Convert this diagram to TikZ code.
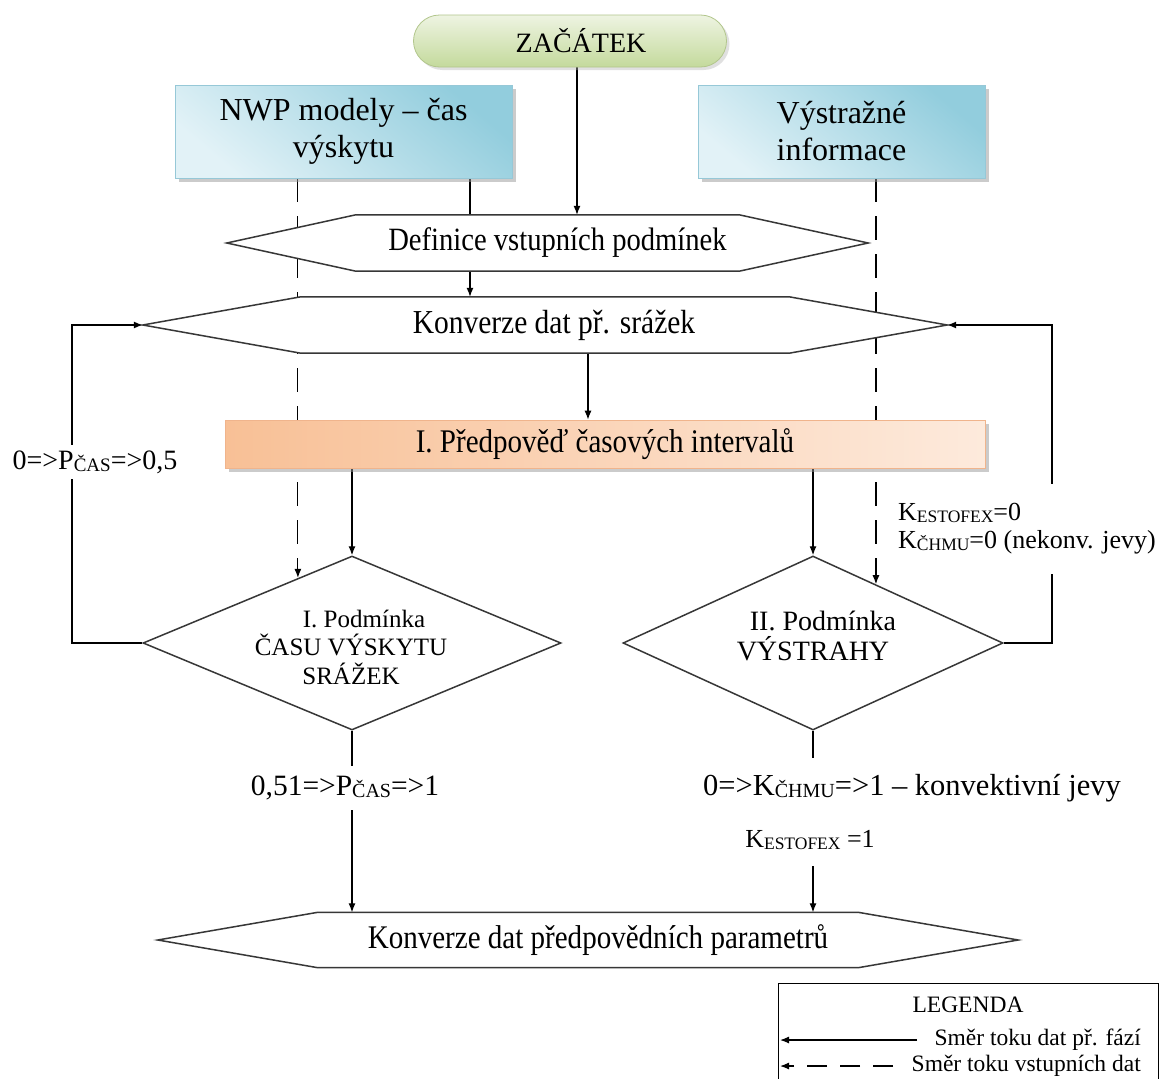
\documentclass[tikz,border=0pt]{standalone}
\usepackage{fontspec}
\setmainfont{Liberation Serif}
\newfontfamily\condfont[FakeStretch=0.88]{Liberation Serif}
\usetikzlibrary{arrows.meta,shapes.geometric,shadows,backgrounds,calc}
\pgfdeclarelayer{lines}
\pgfdeclarelayer{shapes}
\pgfsetlayers{lines,shapes,main}
\definecolor{gL}{RGB}{238,244,226}
\definecolor{gD}{RGB}{196,218,156}
\definecolor{gE}{RGB}{178,198,140}
\definecolor{bL}{RGB}{226,242,247}
\definecolor{bD}{RGB}{146,205,221}
\definecolor{bE}{RGB}{150,200,215}
\definecolor{oL}{RGB}{253,234,220}
\definecolor{oD}{RGB}{248,192,150}
\definecolor{oE}{RGB}{240,180,140}
\definecolor{edge}{RGB}{55,55,55}
\newcommand{\sbx}[2][19]{\raisebox{-2pt}{\fontsize{#1}{#1}\selectfont #2}}
\newcommand{\fsz}[2]{\fontsize{#1}{#2}\selectfont}
\tikzset{
  flow/.style={draw=black, line width=1.2pt, -{Latex[length=9pt,width=7pt]}},
  dflow/.style={flow, dash pattern=on 24pt off 14pt},
  startbox/.style={rectangle, rounded corners=26pt, draw=gE, line width=0.8pt,
    top color=gL, bottom color=gD, minimum width=313, minimum height=52,
    font=\fsz{28}{32}, inner sep=0,
    drop shadow={shadow xshift=3pt, shadow yshift=-3pt, fill=black!30, opacity=0.4}},
  inbox/.style={rectangle, draw=bE, line width=0.6pt, top color=bD, bottom color=bL,
    shading angle=-40, font=\fsz{32}{37}, align=center, inner sep=0,
    drop shadow={shadow xshift=4pt, shadow yshift=-4pt, fill=black!40, opacity=0.5}},
  orbox/.style={rectangle, draw=oE, line width=0.6pt, left color=oD, right color=oL,
    minimum width=760, minimum height=48, font=\condfont\fsz{33}{36}, inner sep=0,
    drop shadow={shadow xshift=4pt, shadow yshift=-4pt, fill=black!40, opacity=0.5}},
  hextext/.style={rectangle, minimum height=56, inner sep=0},
  hexshape/.style={draw=edge, line width=1.5pt, fill=white, line join=miter},
  decision/.style={diamond, draw=edge, line width=1.5pt, fill=white, inner sep=0},
  lab/.style={fill=white, inner xsep=3pt, font=\fsz{28}{28}}
}
\begin{document}
\begin{tikzpicture}[x=1pt,y=-1pt]
\clip (0,0) rectangle (1163,1079);
% ---- nodes ----
\node[startbox] (zac) at (570,41) {\hspace*{22pt}ZAČÁTEK};
\node[inbox, minimum width=337, minimum height=93] (nwp) at (343.5,131.5) {NWP modely – čas\\výskytu};
\node[inbox, minimum width=287, minimum height=93] (vys) at (841.5,131.5) {Výstražné\\informace};
\node[hextext, minimum width=383, font=\condfont\fsz{32.5}{34}] (def) at (547.5,243) {\hspace*{20pt}Definice vstupních podmínek};
\node[hextext, minimum width=488, font=\condfont\fsz{33.5}{34}] (kon) at (545,325) {\hspace*{18pt}Konverze dat př. srážek};
\node[orbox] (ora) at (605,444) {I. Předpověď časových intervalů};
\node[decision, minimum width=418, minimum height=174] (d1) at (352,643) {};
\node[font=\fsz{25}{28.5}, align=center] (d1t) at (351,647) {\hspace*{26pt}I. Podmínka\\ČASU VÝSKYTU\\SRÁŽEK};
\node[decision, minimum width=380, minimum height=174] (d2) at (813,643) {};
\node[font=\fsz{28}{30}, align=center] (d2t) at (813,636) {\hspace*{20pt}II. Podmínka\\VÝSTRAHY};
\node[hextext, minimum width=540, minimum height=55, font=\condfont\fsz{33}{34}] (bh) at (588,940) {\hspace*{20pt}Konverze dat předpovědních parametrů};
% hexagon tips
\coordinate (defL) at ([xshift=-129pt]def.west);
\coordinate (defR) at ([xshift=129pt]def.east);
\coordinate (konL) at ([xshift=-158pt]kon.west);
\coordinate (konR) at ([xshift=158pt]kon.east);
\coordinate (bhL) at ([xshift=-160pt]bh.west);
\coordinate (bhR) at ([xshift=160pt]bh.east);
\begin{pgfonlayer}{shapes}
\draw[hexshape] (def.north west) -- (def.north east) -- (defR) -- (def.south east) -- (def.south west) -- (defL) -- cycle;
\draw[hexshape] (kon.north west) -- (kon.north east) -- (konR) -- (kon.south east) -- (kon.south west) -- (konL) -- cycle;
\draw[hexshape] (bh.north west) -- (bh.north east) -- (bhR) -- (bh.south east) -- (bh.south west) -- (bhL) -- cycle;
\end{pgfonlayer}
% labels
\node[lab, inner ysep=6pt] (p1) at (95,462) {0=>P\sbx{ČAS}=>0,5};
\node[lab, inner ysep=20pt, anchor=west, align=left, font=\fsz{26}{28}] (k1) at (895,529) {K\sbx[17.5]{ESTOFEX}=0\\K\sbx[17.5]{ČHMU}=0 (nekonv. jevy)};
\node[lab, inner ysep=10pt, font=\fsz{29.5}{30}] (p2) at (345,788) {0,51=>P\sbx[20]{ČAS}=>1};
\node[lab, inner ysep=16pt, font=\fsz{30.5}{31}] (k2) at (912,788) {0=>K\sbx[20]{ČHMU}=>1 – konvektivní jevy};
\node[lab, inner ysep=16pt, font=\fsz{26}{28}] (k3) at (810,840) {K\sbx[17.5]{ESTOFEX} =1};
% legend
\node[draw=black, line width=1pt, minimum width=380, minimum height=140, anchor=north west, inner sep=0] (leg) at (778,983) {};
\node[font=\fsz{23.5}{26}] (legt) at (968,1005) {LEGENDA};
\node[font=\fsz{23.5}{26}, anchor=base east, inner sep=0] (leg1) at (1141,1045) {Směr toku dat př. fází};
\node[font=\fsz{23.5}{26}, anchor=base east, inner sep=0] (leg2) at (1141,1071) {Směr toku vstupních dat};
\coordinate (l1s) at (917,1040); \coordinate (l1e) at (780,1040);
\coordinate (l2s) at (893,1066); \coordinate (l2e) at (780,1066);
\draw[flow] (l1s) -- (l1e);
\draw[dflow, dash pattern=on 20pt off 13pt] (l2s) -- (l2e);
% ---- connectors ----
\begin{pgfonlayer}{lines}
\fill[white] (0,0) rectangle (1163,1079);
\coordinate (xb) at (470,0);
\coordinate (xk) at (588,0);
\coordinate (fl) at (72,0);
\coordinate (fr) at (1052,0);
\draw[flow] ([xshift=7pt]zac.south) -- ([xshift=7pt]zac.south |- def.north);
\draw[flow] (nwp.south -| xb) -- (kon.north -| xb);
\path (d1.north) -- (d1.west) coordinate[pos=0.258] (d1a);
\draw[dflow] (nwp.south -| d1a) -- (d1a);
\path (d2.north) -- (d2.east) coordinate[pos=0.33] (d2a);
\draw[dflow] (vys.south -| d2a) -- (d2a);
\draw[flow] (kon.south -| xk) -- (ora.north -| xk);
\draw[flow] (d1.north |- ora.south) -- (d1.north);
\draw[flow] (d2.north |- ora.south) -- (d2.north);
\draw[flow] (d1.west) -- (d1.west -| fl) -- (fl |- konL) -- (konL);
\draw[flow] (d2.east) -- (d2.east -| fr) -- (fr |- konR) -- (konR);
\draw[flow] (d1.south) -- (d1.south |- bh.north);
\draw[flow] (d2.south) -- (d2.south |- bh.north);
\end{pgfonlayer}
\end{tikzpicture}
\end{document}
